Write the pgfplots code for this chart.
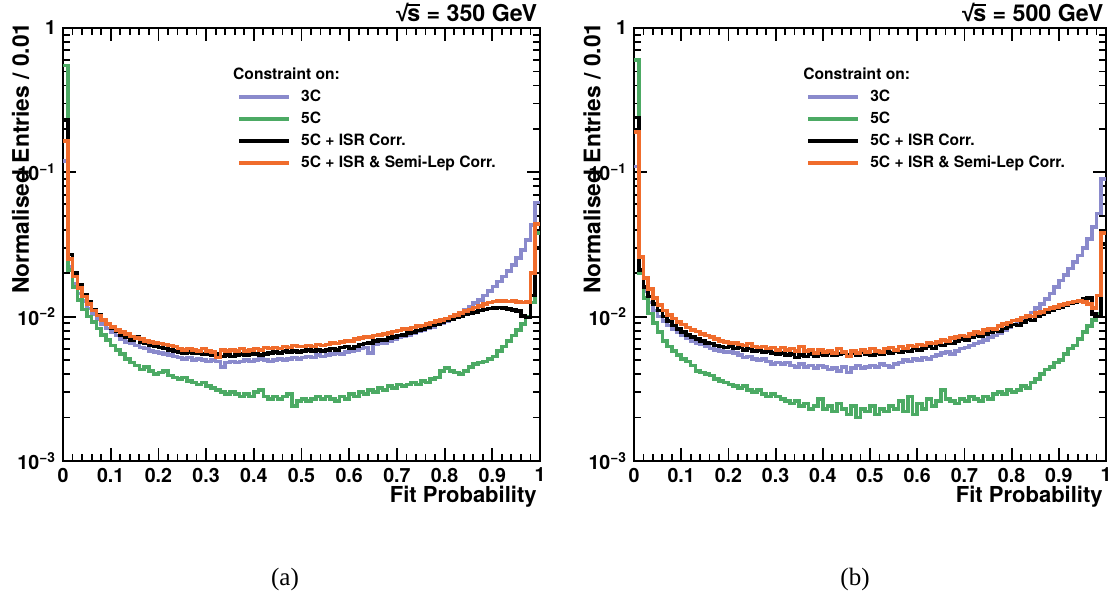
\documentclass[border=0pt]{standalone}
\usepackage{fontspec}
\setmainfont{TeX Gyre Heros}
\newfontfamily\libsans{Liberation Sans}
\newfontfamily\capserif{Liberation Serif}
\usepackage{pgfplots}
\usepackage{pgfplotstable}
\pgfplotsset{compat=1.18}

\definecolor{cthree}{RGB}{138,138,204}
\definecolor{cfive}{RGB}{76,170,100}
\definecolor{cisr}{RGB}{0,0,0}
\definecolor{csemi}{RGB}{240,108,44}

\pgfplotstableread{
x p g k o
0.00 0.12 0.55 0.23 0.165
0.01 0.022 0.021 0.027 0.025
0.02 0.017 0.016 0.020 0.019
0.03 0.0145 0.013 0.0165 0.0158
0.04 0.0128 0.0112 0.0142 0.0138
0.05 0.0114 0.0100 0.0126 0.0122
0.06 0.0104 0.0092 0.0112 0.0110
0.07 0.0096 0.0083 0.0103 0.0102
0.08 0.0089 0.0075 0.0095 0.0095
0.09 0.0083 0.0069 0.0088 0.0089
0.10 0.0078 0.0063 0.0083 0.0085
0.11 0.0074 0.0059 0.0079 0.0081
0.12 0.0070 0.0055 0.0075 0.0078
0.13 0.0067 0.0051 0.0072 0.0076
0.14 0.0065 0.0048 0.0069 0.0073
0.15 0.0063 0.0046 0.0073 0.0071
0.16 0.0061 0.0043 0.0067 0.0070
0.17 0.0060 0.0045 0.0065 0.0068
0.18 0.0058 0.0042 0.0063 0.0067
0.19 0.0057 0.0040 0.0062 0.0066
0.20 0.0056 0.0041 0.0061 0.0065
0.21 0.0055 0.0042 0.0060 0.0064
0.22 0.0054 0.0039 0.0059 0.0063
0.23 0.0053 0.0038 0.0058 0.0062
0.24 0.0052 0.0037 0.0057 0.0060
0.25 0.0051 0.0038 0.0056 0.0059
0.26 0.0052 0.0036 0.0057 0.0060
0.27 0.0050 0.0035 0.0056 0.0059
0.28 0.0051 0.0034 0.0056 0.0058
0.29 0.0050 0.0035 0.0055 0.0060
0.30 0.0049 0.0033 0.0055 0.0058
0.31 0.0050 0.0032 0.0054 0.0057
0.32 0.0049 0.0031 0.0055 0.0052
0.33 0.0045 0.0030 0.0053 0.0059
0.34 0.0048 0.0029 0.0054 0.0058
0.35 0.0049 0.0030 0.0053 0.0059
0.36 0.0048 0.0029 0.0054 0.0058
0.37 0.0049 0.0028 0.0055 0.0060
0.38 0.0050 0.0029 0.0054 0.0058
0.39 0.0049 0.0028 0.0055 0.0059
0.40 0.0050 0.0030 0.0055 0.0060
0.41 0.0051 0.0031 0.0054 0.0059
0.42 0.0050 0.0028 0.0055 0.0061
0.43 0.0049 0.0027 0.0056 0.0060
0.44 0.0050 0.0028 0.0057 0.0061
0.45 0.0051 0.0027 0.0056 0.0060
0.46 0.0050 0.0028 0.0058 0.0062
0.47 0.0051 0.0029 0.0057 0.0061
0.48 0.0052 0.0024 0.0058 0.0063
0.49 0.0051 0.0026 0.0057 0.0062
0.50 0.0052 0.0027 0.0058 0.0062
0.51 0.0053 0.0026 0.0059 0.0063
0.52 0.0052 0.0027 0.0058 0.0062
0.53 0.0054 0.0028 0.0059 0.0064
0.54 0.0053 0.0027 0.0058 0.0063
0.55 0.0054 0.0028 0.0059 0.0064
0.56 0.0055 0.0027 0.0060 0.0066
0.57 0.0056 0.0026 0.0059 0.0065
0.58 0.0055 0.0028 0.0061 0.0067
0.59 0.0057 0.0027 0.0062 0.0068
0.60 0.0058 0.0029 0.0060 0.0068
0.61 0.0059 0.0028 0.0062 0.0070
0.62 0.0060 0.0030 0.0064 0.0071
0.63 0.0061 0.0029 0.0065 0.0072
0.64 0.0056 0.0031 0.0066 0.0072
0.65 0.0064 0.0030 0.0068 0.0074
0.66 0.0065 0.0032 0.0069 0.0075
0.67 0.0066 0.0031 0.0069 0.0076
0.68 0.0068 0.0033 0.0071 0.0077
0.69 0.0070 0.0032 0.0072 0.0079
0.70 0.0072 0.0034 0.0074 0.0080
0.71 0.0073 0.0033 0.0075 0.0082
0.72 0.0075 0.0034 0.0077 0.0082
0.73 0.0077 0.0035 0.0078 0.0084
0.74 0.0079 0.0034 0.0080 0.0086
0.75 0.0081 0.0036 0.0082 0.0087
0.76 0.0083 0.0035 0.0084 0.0089
0.77 0.0085 0.0037 0.0087 0.0091
0.78 0.0088 0.0038 0.0089 0.0093
0.79 0.0090 0.0042 0.0091 0.0095
0.80 0.0093 0.0044 0.0094 0.0097
0.81 0.0097 0.0042 0.0096 0.0100
0.82 0.0101 0.0041 0.0099 0.0103
0.83 0.0106 0.0040 0.0101 0.0106
0.84 0.0111 0.0042 0.0104 0.0109
0.85 0.0117 0.0045 0.0106 0.0112
0.86 0.0124 0.0047 0.0108 0.0116
0.87 0.0131 0.0048 0.0110 0.0119
0.88 0.0140 0.0049 0.0112 0.0122
0.89 0.0150 0.0051 0.0114 0.0125
0.90 0.0162 0.0053 0.0115 0.0127
0.91 0.0175 0.0058 0.0116 0.0129
0.92 0.0190 0.0062 0.0115 0.0128
0.93 0.0208 0.0068 0.0113 0.0127
0.94 0.0228 0.0074 0.0111 0.0128
0.95 0.0255 0.0081 0.0109 0.0126
0.96 0.0290 0.0089 0.0101 0.0125
0.97 0.0340 0.0100 0.0099 0.0126
0.98 0.043 0.0125 0.0140 0.0200
0.99 0.062 0.038 0.030 0.044
1.00 0.062 0.038 0.030 0.044
}\tabA

\pgfplotstableread{
x p g k o
0.00 0.11 0.60 0.24 0.19
0.01 0.020 0.020 0.021 0.026
0.02 0.0150 0.0135 0.0160 0.0185
0.03 0.0125 0.0105 0.0138 0.0155
0.04 0.0110 0.0090 0.0122 0.0135
0.05 0.0100 0.0078 0.0110 0.0120
0.06 0.0093 0.0068 0.0100 0.0110
0.07 0.0087 0.0062 0.0093 0.0103
0.08 0.0082 0.0058 0.0087 0.0097
0.09 0.0078 0.0054 0.0082 0.0092
0.10 0.0074 0.0051 0.0078 0.0088
0.11 0.0071 0.0049 0.0075 0.0084
0.12 0.0068 0.0046 0.0072 0.0081
0.13 0.0066 0.0042 0.0070 0.0079
0.14 0.0064 0.0041 0.0068 0.0076
0.15 0.0062 0.0040 0.0066 0.0074
0.16 0.0060 0.0039 0.0065 0.0072
0.17 0.0059 0.0037 0.0063 0.0070
0.18 0.0058 0.0036 0.0062 0.0068
0.19 0.0057 0.0035 0.0061 0.0067
0.20 0.0057 0.0034 0.0062 0.0066
0.21 0.0056 0.0033 0.0060 0.0066
0.22 0.0054 0.0032 0.0061 0.0064
0.23 0.0052 0.0033 0.0059 0.0063
0.24 0.0053 0.0031 0.0060 0.0065
0.25 0.0051 0.0030 0.0058 0.0062
0.26 0.0050 0.0031 0.0059 0.0061
0.27 0.0051 0.0029 0.0057 0.0062
0.28 0.0049 0.0028 0.0058 0.0060
0.29 0.0047 0.0029 0.0056 0.0061
0.30 0.0048 0.0028 0.0055 0.0059
0.31 0.0047 0.0027 0.0056 0.0061
0.32 0.0048 0.0026 0.0054 0.0059
0.33 0.0046 0.0025 0.0055 0.0060
0.34 0.0045 0.0026 0.0052 0.0058
0.35 0.0047 0.0024 0.0054 0.0062
0.36 0.0045 0.0025 0.0053 0.0058
0.37 0.0046 0.0023 0.0055 0.0059
0.38 0.0044 0.0024 0.0053 0.0056
0.39 0.0046 0.0027 0.0055 0.0059
0.40 0.0045 0.0023 0.0054 0.0057
0.41 0.0043 0.0024 0.0056 0.0058
0.42 0.0044 0.0022 0.0054 0.0056
0.43 0.0042 0.0025 0.0055 0.0060
0.44 0.0045 0.0023 0.0056 0.0057
0.45 0.0041 0.0021 0.0054 0.0053
0.46 0.0044 0.0024 0.0056 0.0058
0.47 0.0046 0.0020 0.0054 0.0056
0.48 0.0044 0.0023 0.0057 0.0059
0.49 0.0045 0.0022 0.0055 0.0057
0.50 0.0046 0.0024 0.0054 0.0060
0.51 0.0045 0.0021 0.0056 0.0058
0.52 0.0047 0.0023 0.0055 0.0057
0.53 0.0046 0.0022 0.0057 0.0060
0.54 0.0045 0.0024 0.0056 0.0061
0.55 0.0047 0.0023 0.0058 0.0059
0.56 0.0048 0.0026 0.0057 0.0062
0.57 0.0050 0.0022 0.0059 0.0060
0.58 0.0049 0.0028 0.0058 0.0063
0.59 0.0051 0.0021 0.0060 0.0062
0.60 0.0050 0.0025 0.0059 0.0064
0.61 0.0052 0.0023 0.0060 0.0063
0.62 0.0051 0.0027 0.0062 0.0066
0.63 0.0053 0.0024 0.0060 0.0065
0.64 0.0054 0.0026 0.0064 0.0067
0.65 0.0056 0.0031 0.0063 0.0069
0.66 0.0057 0.0027 0.0066 0.0068
0.67 0.0055 0.0026 0.0065 0.0071
0.68 0.0058 0.0025 0.0068 0.0072
0.69 0.0060 0.0027 0.0070 0.0074
0.70 0.0061 0.0026 0.0069 0.0073
0.71 0.0063 0.0028 0.0072 0.0076
0.72 0.0065 0.0027 0.0074 0.0078
0.73 0.0067 0.0026 0.0073 0.0077
0.74 0.0069 0.0028 0.0076 0.0081
0.75 0.0072 0.0027 0.0078 0.0083
0.76 0.0074 0.0029 0.0080 0.0082
0.77 0.0077 0.0030 0.0079 0.0086
0.78 0.0081 0.0029 0.0083 0.0089
0.79 0.0084 0.0031 0.0086 0.0091
0.80 0.0088 0.0030 0.0088 0.0094
0.81 0.0092 0.0031 0.0087 0.0095
0.82 0.0096 0.0033 0.0092 0.0099
0.83 0.0101 0.0032 0.0096 0.0101
0.84 0.0107 0.0035 0.0094 0.0100
0.85 0.0115 0.0037 0.0101 0.0106
0.86 0.0122 0.0040 0.0104 0.0108
0.87 0.0132 0.0043 0.0108 0.0112
0.88 0.0145 0.0045 0.0111 0.0115
0.89 0.0160 0.0048 0.0114 0.0117
0.90 0.0178 0.0050 0.0117 0.0120
0.91 0.0195 0.0055 0.0120 0.0122
0.92 0.0215 0.0060 0.0123 0.0125
0.93 0.0240 0.0063 0.0126 0.0127
0.94 0.0265 0.0070 0.0129 0.0128
0.95 0.0300 0.0078 0.0132 0.0126
0.96 0.0345 0.0086 0.0135 0.0122
0.97 0.0420 0.0095 0.0104 0.0115
0.98 0.052 0.0105 0.0100 0.0140
0.99 0.090 0.038 0.032 0.038
1.00 0.090 0.038 0.032 0.038
}\tabB

\newcommand{\rootsqrts}{{\libsans √}\kern-0.06em\vbox{\hrule height0.65pt\kern1.3pt\hbox{s}}}

\pgfplotsset{
    scale only axis,
    clip mode=individual,
    height=216.5pt,
    xmin=0, xmax=1, ymin=1e-3, ymax=1,
    xtick={0,0.1,0.2,0.3,0.4,0.5,0.6,0.7,0.8,0.9,1},
    xticklabels={0,0.1,0.2,0.3,0.4,0.5,0.6,0.7,0.8,0.9,1},
    minor x tick num=4,
    ytick={0.001,0.01,0.1,1},
    yticklabels={10\textsuperscript{−3},10\textsuperscript{−2},10\textsuperscript{−1},1},
    tick align=inside,
    major tick length=6.5pt, minor tick length=3.3pt,
    axis line style={line width=1pt},
    every tick/.style={line width=0.9pt, black},
    tick label style={font=\fontsize{9.8}{11}\selectfont\bfseries},
    xlabel style={font=\fontsize{11}{13}\selectfont\bfseries, inner sep=0pt,
      at={(axis description cs:0.9937,-0.0947)}, anchor=base east},
    ylabel style={font=\fontsize{11.4}{13}\selectfont\bfseries, inner sep=0pt,
      at={(axis description cs:-0.0713,1.0139)}, anchor=base east},
    legend style={at={(axis description cs:0.365,0.858)}, anchor=north west,
      draw=none, fill=none, inner sep=0pt, row sep=3.6pt,
      nodes={inner sep=0pt, text height=5.8pt, text depth=1.6pt},
      /tikz/every odd column/.append style={column sep=5pt},
      font=\fontsize{7.8}{9}\selectfont\bfseries},
    legend cell align=left,
    legend image code/.code={\draw[#1] (0pt,0pt) -- (25pt,0pt);},
    every axis plot/.append style={const plot, no marks, line width=1.8pt},
}

\begin{document}
\begin{tikzpicture}
\useasboundingbox (0,0) rectangle (557pt,300.5pt);

\begin{axis}[ymode=log, width=238.5pt, at={(31.5pt,70pt)}, anchor=south west,
  xlabel={Fit Probability}, ylabel={Normalised Entries / 0.01}]
\addplot[cthree] table[x=x,y=p]{\tabA}; \addlegendentry{3C}
\addplot[cfive] table[x=x,y=g]{\tabA}; \addlegendentry{5C}
\addplot[cisr] table[x=x,y=k]{\tabA}; \addlegendentry{5C + ISR Corr.}
\addplot[csemi] table[x=x,y=o]{\tabA}; \addlegendentry{5C + ISR \& Semi-Lep Corr.}
\node[anchor=west, inner sep=0pt, font=\fontsize{7.8}{9}\selectfont\bfseries] at (axis description cs:0.356,0.894) {Constraint on:};
\node[anchor=base east, inner sep=0pt, font=\fontsize{11.6}{13}\selectfont\bfseries] at (axis description cs:0.995,1.016) {\rootsqrts\ = 350 GeV};
\end{axis}

\begin{axis}[ymode=log, width=236pt, at={(317pt,70pt)}, anchor=south west,
  xlabel={Fit Probability}, ylabel={Normalised Entries / 0.01}]
\addplot[cthree] table[x=x,y=p]{\tabB}; \addlegendentry{3C}
\addplot[cfive] table[x=x,y=g]{\tabB}; \addlegendentry{5C}
\addplot[cisr] table[x=x,y=k]{\tabB}; \addlegendentry{5C + ISR Corr.}
\addplot[csemi] table[x=x,y=o]{\tabB}; \addlegendentry{5C + ISR \& Semi-Lep Corr.}
\node[anchor=west, inner sep=0pt, font=\fontsize{7.8}{9}\selectfont\bfseries] at (axis description cs:0.358,0.894) {Constraint on:};
\node[anchor=base east, inner sep=0pt, font=\fontsize{11.6}{13}\selectfont\bfseries] at (axis description cs:0.995,1.016) {\rootsqrts\ = 500 GeV};
\end{axis}

\node[font=\capserif\fontsize{12.5}{14}\selectfont] at (142.5pt,11pt) {(a)};
\node[font=\capserif\fontsize{12.5}{14}\selectfont] at (427.5pt,11pt) {(b)};
\end{tikzpicture}
\end{document}
